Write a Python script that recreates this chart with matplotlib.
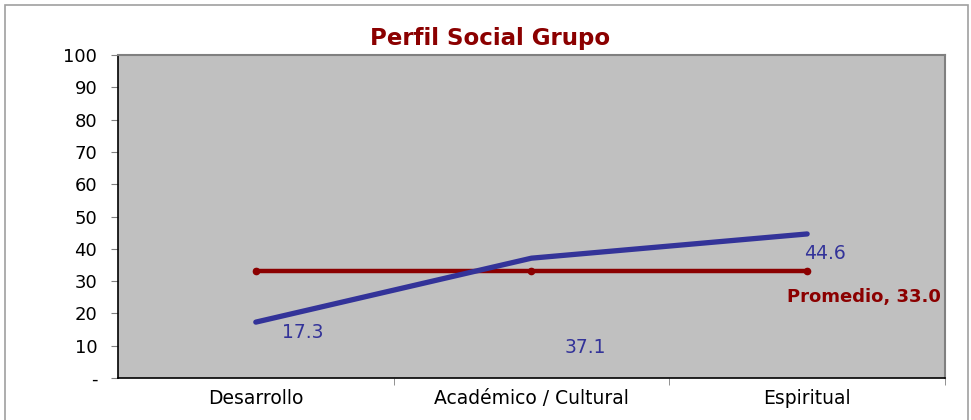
import matplotlib.pyplot as plt
from matplotlib.patches import Rectangle

categories = ["Desarrollo", "Académico / Cultural", "Espiritual"]
grupo = [17.3, 37.1, 44.6]
promedio = [33.0, 33.0, 33.0]
yticks = [0, 10, 20, 30, 40, 50, 60, 70, 80, 90, 100]
ytick_labels = ["-", "10", "20", "30", "40", "50", "60", "70", "80", "90", "100"]

plt.rcParams['font.family'] = ['DejaVu Sans']

fig = plt.figure(figsize=(9.71, 4.2), dpi=100)
fig.patches.append(Rectangle((0.005, -0.01), 0.992, 0.998, transform=fig.transFigure,
                             fill=False, edgecolor='#a0a0a0', linewidth=1.2))
ax = fig.add_axes([0.1215, 0.1, 0.8517, 0.769])
ax.set_facecolor('#c0c0c0')

x = list(range(len(categories)))
ax.plot(x, promedio, color='#8b0000', linewidth=3.2, marker='o', markersize=4.5, zorder=3)
ax.plot(x, grupo, color='#333399', linewidth=3.8, solid_capstyle='round', zorder=4)

# data labels (Excel placement)
blue_offsets = [(47, -10), (54, -89), (18, -20)]
for xi, v, off in zip(x, grupo, blue_offsets):
    ax.annotate(f"{v:.1f}", (xi, v), xytext=off, textcoords='offset pixels',
                ha='center', va='center', fontsize=13.5, color='#333399')
ax.annotate(f"Promedio, {promedio[-1]:.1f}", (x[-1], promedio[-1]), xytext=(57, -26),
            textcoords='offset pixels', ha='center', va='center', fontsize=13,
            color='#8b0000', fontweight='bold')

ax.set_xlim(-0.5, 2.5)
ax.set_ylim(0, 100)
ax.set_yticks(yticks)
ax.set_yticklabels(ytick_labels, fontsize=13)
ax.set_xticks(x)
ax.set_xticklabels(categories, fontsize=13.5)
ax.tick_params(axis='x', length=0, pad=8)
ax.set_xticks([0.5, 1.5, 2.5], minor=True)
ax.tick_params(axis='x', which='minor', length=5, color='#808080', direction='out')
ax.tick_params(axis='y', length=5, color='#808080', pad=10)

for s in ['left', 'bottom']:
    ax.spines[s].set_color('black')
    ax.spines[s].set_linewidth(1.2)
for s in ['top', 'right']:
    ax.spines[s].set_color('#808080')
    ax.spines[s].set_linewidth(1.5)

fig.text(0.505, 0.908, "Perfil Social Grupo", ha='center', va='center',
         fontsize=16.5, fontweight='bold', color='#8b0000')

fig.savefig("out.png", dpi=100)
